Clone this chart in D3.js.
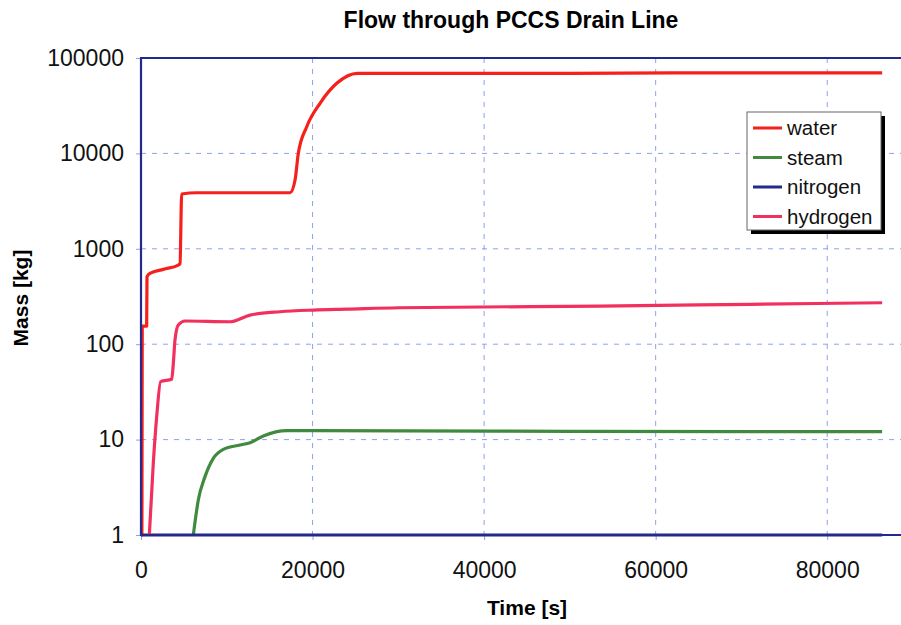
<!DOCTYPE html>
<html>
<head>
<meta charset="utf-8">
<script src="https://cdn.jsdelivr.net/npm/d3@7"></script>
<style>
  body { margin: 0; background: #fff; }
  svg { display: block; font-family: "Liberation Sans", Arial, sans-serif; }
</style>
</head>
<body>
<svg width="901" height="625"></svg>
<script>
// Data (time in s, mass in kg)
const waterT  = [0, 100, 150, 660, 700, 1050, 2600, 4350, 4550, 4740, 6500, 12000, 17380, 17960, 18340, 19320, 20870, 22820, 25230, 50000, 62000, 86400];
const waterM  = [1, 1, 155, 155, 510, 553, 609, 676, 700, 3750, 3870, 3870, 3870, 5260, 10020, 19050, 33500, 54300, 69100, 69100, 70000, 70000];

const steamT  = [6100, 6680, 7460, 8430, 9600, 11540, 12710, 14260, 16990, 20000, 50000, 86400];
const steamM  = [1, 2.33, 4.09, 6.37, 7.91, 8.78, 9.28, 10.9, 12.4, 12.4, 12.2, 12.1];

const nitroT  = [0, 86400];
const nitroM  = [1, 1];

const hydroT  = [970, 1430, 1830, 2290, 3580, 3770, 3960, 4350, 5130, 10380, 12710, 16210, 20100, 24000, 30000, 53500, 71000, 86400];
const hydroM  = [1, 5.6, 17.4, 40.5, 42.9, 63, 110, 159, 175, 172, 202, 219, 228, 233, 241, 251, 262, 272];

const seriesNames = ["water", "steam", "nitrogen", "hydrogen"];
const seriesColors = ["#f5201c", "#3f8a3f", "#232a8c", "#f2305e"];
const xTicks = [0, 20000, 40000, 60000, 80000];
const yTicks = [1, 10, 100, 1000, 10000, 100000];

const series = [
  {name: seriesNames[0], t: waterT, m: waterM, color: seriesColors[0]},
  {name: seriesNames[1], t: steamT, m: steamM, color: seriesColors[1]},
  {name: seriesNames[2], t: nitroT, m: nitroM, color: seriesColors[2]},
  {name: seriesNames[3], t: hydroT, m: hydroM, color: seriesColors[3]}
];

const svg = d3.select("svg");
const x = d3.scaleLinear().domain([0, 90000]).range([141, 913]);
const y = d3.scaleLog().domain([1, 100000]).range([535, 58]);

// grid
const grid = svg.append("g").attr("stroke", "#8fa0f0").attr("stroke-width", 1).attr("stroke-dasharray", "5,6");
grid.selectAll(".gx").data(xTicks.slice(1)).join("line")
  .attr("x1", d => x(d)).attr("x2", d => x(d)).attr("y1", 58).attr("y2", 535);
grid.selectAll(".gy").data(yTicks.slice(1, -1)).join("line")
  .attr("x1", 141).attr("x2", 913).attr("y1", d => y(d)).attr("y2", d => y(d));

// axes
const xAxis = svg.append("g").attr("transform", "translate(0,535)")
  .call(d3.axisBottom(x).tickValues(xTicks).tickSize(5).tickPadding(22).tickFormat(d3.format("d")));
const yAxis = svg.append("g").attr("transform", "translate(141,0)")
  .call(d3.axisLeft(y).tickValues(yTicks).tickSize(5).tickPadding(12).tickFormat(d3.format("d")));
[xAxis, yAxis].forEach(a => {
  a.select(".domain").remove();
  a.selectAll(".tick line").attr("stroke", "#8fa0f0");
  a.selectAll("text").attr("font-size", 23).attr("fill", "#111")
    .attr("font-family", "'Liberation Sans', Arial, sans-serif");
});

// curves
const line = d3.line().x(d => x(d[0])).y(d => y(d[1])).curve(d3.curveMonotoneX);
series.forEach(s => {
  svg.append("path")
    .datum(s.t.map((t, i) => [t, s.m[i]]))
    .attr("fill", "none").attr("stroke", s.color).attr("stroke-width", 3.2)
    .attr("stroke-linejoin", "round")
    .attr("d", line);
});

// plot border (left, top, bottom)
svg.append("path").attr("d", `M${x(90000)},${y(100000)}H${x(0)}V${y(1)}H${x(90000)}`)
  .attr("fill", "none").attr("stroke", "#232a8c").attr("stroke-width", 2.2);

// titles
svg.append("text").attr("x", 511).attr("y", 28).attr("text-anchor", "middle")
  .attr("font-size", 23).attr("font-weight", "bold").text("Flow through PCCS Drain Line");
svg.append("text").attr("x", 527).attr("y", 615).attr("text-anchor", "middle")
  .attr("font-size", 21).attr("font-weight", "bold").text("Time [s]");
svg.append("text").attr("transform", "translate(28,298) rotate(-90)").attr("text-anchor", "middle")
  .attr("font-size", 21).attr("font-weight", "bold").text("Mass [kg]");

// legend
const lg = svg.append("g").attr("transform", "translate(747,112)");
lg.append("rect").attr("x", 4).attr("y", 4).attr("width", 134).attr("height", 118).attr("fill", "#000");
lg.append("rect").attr("width", 134).attr("height", 118).attr("fill", "#fff").attr("stroke", "#666").attr("stroke-width", 1);
series.forEach((s, i) => {
  const yy = 16 + i * 29.5;
  lg.append("line").attr("x1", 6).attr("x2", 35).attr("y1", yy).attr("y2", yy)
    .attr("stroke", s.color).attr("stroke-width", 3);
  lg.append("text").attr("x", 40).attr("y", yy + 7).attr("font-size", 20.5).attr("fill", "#111").text(s.name);
});
</script>
</body>
</html>
